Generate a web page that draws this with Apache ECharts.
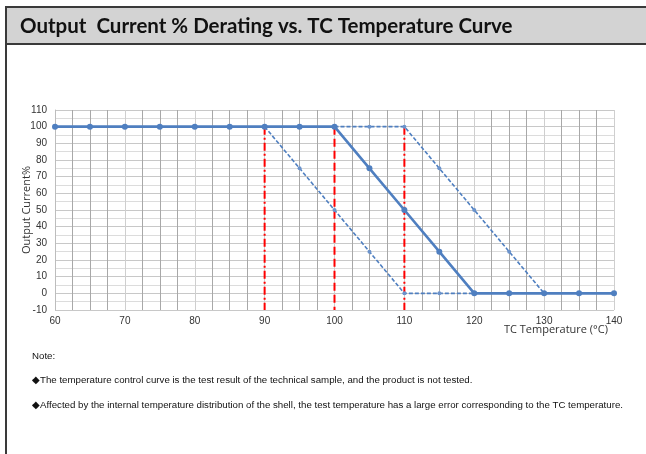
<!DOCTYPE html>
<html>
<head>
<meta charset="utf-8">
<script src="https://cdn.jsdelivr.net/npm/echarts@6/dist/echarts.min.js"></script>
<style>
  html, body { margin: 0; padding: 0; background: #fff; }
  #chart { width: 646px; height: 454px; }
</style>
</head>
<body>
<div id="chart"></div>
<script>
// rated curve (solid)
var ratedTemp = [60, 65, 70, 75, 80, 85, 90, 95, 100, 105, 110, 115, 120, 125, 130, 135, 140]
var ratedCurrent = [100, 100, 100, 100, 100, 100, 100, 100, 100, 75, 50, 25, 0, 0, 0, 0, 0]
// lower tolerance (dashed, left)
var lowTemp = [90, 95, 100, 105, 110, 115, 120]
var lowCurrent = [100, 75, 50, 25, 0, 0, 0]
// upper tolerance (dashed, right)
var highTemp = [100, 105, 110, 115, 120, 125, 130]
var highCurrent = [100, 100, 100, 75, 50, 25, 0]
// red reference lines
var refTemp = [90, 100, 110]
var refTop = 100
var refBottom = -10

var notes = [
  'Note:',
  '\u25C6The temperature control curve is the test result of the technical sample, and the product is not tested.',
  '\u25C6Affected by the internal temperature distribution of the shell, the test temperature has a large error corresponding to the TC temperature.'
]

function pairs(xs, ys) {
  return xs.map(function (x, i) { return [x, ys[i]] })
}

var chart = echarts.init(document.getElementById('chart'))

var blue = '#4f7fc0'
var series = [
  {
    name: 'low',
    type: 'line',
    data: pairs(lowTemp, lowCurrent),
    symbol: 'circle',
    symbolSize: 4,
    lineStyle: { color: blue, width: 1.6, type: [4, 2] },
    itemStyle: { color: '#6b93cc' },
    z: 3
  },
  {
    name: 'high',
    type: 'line',
    data: pairs(highTemp, highCurrent),
    symbol: 'circle',
    symbolSize: 4,
    lineStyle: { color: blue, width: 1.6, type: [4, 2] },
    itemStyle: { color: '#6b93cc' },
    z: 3
  },
  {
    name: 'rated',
    type: 'line',
    data: pairs(ratedTemp, ratedCurrent),
    symbol: 'circle',
    symbolSize: 6,
    lineStyle: { color: blue, width: 2.6 },
    itemStyle: { color: blue },
    z: 4
  }
]

refTemp.forEach(function (t, i) {
  series.push({
    name: 'ref' + t,
    type: 'line',
    data: [[t, refTop], [t, refBottom]],
    symbol: 'none',
    lineStyle: { color: '#ff0000', width: 2, type: i === 1 ? [8, 4] : [8, 3, 2, 3] },
    z: 2
  })
})

var noteFont = '9.7px "Liberation Sans", Arial, sans-serif'

chart.setOption({
  animation: false,
  textStyle: { fontFamily: 'Liberation Sans, Arial, sans-serif' },
  grid: { left: 55, right: 32, top: 110, bottom: 144 },
  xAxis: {
    type: 'value',
    min: 60,
    max: 140,
    interval: 10,
    axisLine: { show: false },
    axisTick: { show: false },
    axisLabel: { color: '#333', fontSize: 10, margin: 6 },
    splitLine: { show: true, lineStyle: { color: '#cfcfcf', width: 1 } },
    minorTick: { show: false, splitNumber: 4 },
    minorSplitLine: { show: true, lineStyle: { color: '#a8a8a8', width: 1 } }
  },
  yAxis: {
    type: 'value',
    min: -10,
    max: 110,
    interval: 10,
    name: 'Output Current%',
    nameLocation: 'middle',
    nameGap: 23,
    nameMoveOverlap: false,
    nameRotate: 90,
    nameTextStyle: { color: '#333', fontSize: 11, fontFamily: 'Open Sans, sans-serif' },
    axisLine: { show: true, lineStyle: { color: '#bdbdbd' } },
    axisTick: { show: false },
    axisLabel: { color: '#333', fontSize: 10, margin: 8 },
    splitLine: { show: true, lineStyle: { color: '#c8c8c8', width: 1 } },
    minorTick: { show: false, splitNumber: 2 },
    minorSplitLine: { show: true, lineStyle: { color: '#dcdcdc', width: 1 } }
  },
  graphic: [
    {
      type: 'rect',
      shape: { x: 6, y: 7, width: 650, height: 37 },
      style: { fill: '#d3d3d3', stroke: '#3a3a3a', lineWidth: 2 },
      z: 10
    },
    {
      type: 'line',
      shape: { x1: 6, y1: 7, x2: 6, y2: 454 },
      style: { stroke: '#3a3a3a', lineWidth: 2 },
      z: 11
    },
    {
      type: 'text',
      x: 20,
      y: 26,
      style: {
        text: 'Output  Current % Derating vs. TC Temperature Curve',
        font: 'bold 20.5px Lato, "Open Sans", sans-serif',
        fill: '#111',
        verticalAlign: 'middle'
      },
      z: 12
    },
    {
      type: 'text',
      x: 608,
      y: 330,
      style: {
        text: 'TC Temperature (°C)',
        font: '11px "Open Sans", sans-serif',
        fill: '#333',
        align: 'right',
        verticalAlign: 'middle'
      }
    },
    {
      type: 'text',
      x: 32,
      y: 356,
      style: { text: notes[0], font: noteFont, fill: '#111', verticalAlign: 'middle' }
    },
    {
      type: 'text',
      x: 32,
      y: 380,
      style: { text: notes[1], font: noteFont, fill: '#111', verticalAlign: 'middle' }
    },
    {
      type: 'text',
      x: 32,
      y: 405,
      style: { text: notes[2], font: noteFont, fill: '#111', verticalAlign: 'middle' }
    }
  ],
  series: series
})
</script>
</body>
</html>
